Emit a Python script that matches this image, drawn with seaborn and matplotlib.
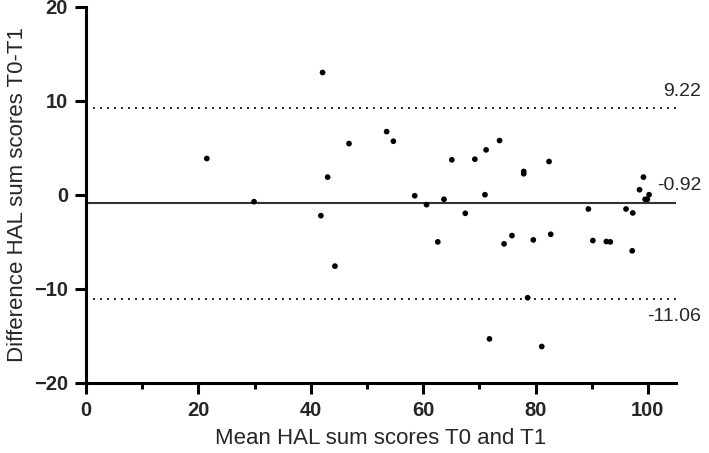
import matplotlib
matplotlib.use("Agg")
import matplotlib.pyplot as plt
import pandas as pd
import seaborn as sns
from matplotlib.ticker import MultipleLocator

# Bland-Altman data
mean_scores = [21.5, 29.9, 41.8, 42.1, 43.0, 44.3, 46.8, 53.5, 54.7, 58.5,
               60.6, 62.6, 63.7, 65.1, 67.5, 69.2, 71.0, 71.2, 71.8, 73.6,
               74.4, 75.8, 77.9, 77.9, 78.6, 79.6, 81.1, 82.4, 82.7, 89.4,
               90.2, 92.6, 93.3, 96.1, 97.2, 97.3, 98.5, 99.2, 99.5, 99.9,
               100.2]
diff_scores = [3.85, -0.74, -2.23, 13.0, 1.87, -7.6, 5.44, 6.71, 5.69, -0.11,
               -1.06, -5.02, -0.49, 3.71, -1.98, 3.78, 0.0, 4.77, -15.34, 5.76,
               -5.23, -4.35, 2.47, 2.23, -10.96, -4.81, -16.15, 3.53, -4.21, -1.52,
               -4.88, -4.98, -5.02, -1.52, -5.97, -1.94, 0.53, 1.87, -0.49, -0.49,
               0.0]
bias = -0.92
upper_loa = 9.22
lower_loa = -11.06

df = pd.DataFrame({"mean": mean_scores, "diff": diff_scores})

sns.set_style("ticks")
plt.rcParams["font.family"] = ["Liberation Sans", "DejaVu Sans"]

fig, ax = plt.subplots(figsize=(7.09, 4.53), dpi=100)
fig.subplots_adjust(left=0.1213, right=0.9535, top=0.9852, bottom=0.1552)

sns.scatterplot(data=df, x="mean", y="diff", ax=ax, color="black",
                s=17, edgecolor="none", zorder=3)

ax.axhline(bias, color="#333333", linewidth=1.5, zorder=2)
for val in (upper_loa, lower_loa):
    ax.axhline(val, color="#222222", linewidth=1.4,
               linestyle=(0, (1, 2.6)), zorder=2)

# limits of agreement labels, right of the plot area
txt_kw = dict(xycoords="data", textcoords="offset points", ha="right",
              fontsize=14, annotation_clip=False)
ax.annotate(f"{upper_loa:.2f}", xy=(109.5, upper_loa), xytext=(0, 6),
            va="bottom", **txt_kw)
ax.annotate(f"{bias:.2f}", xy=(109.5, bias), xytext=(0, 7),
            va="bottom", **txt_kw)
ax.annotate(f"{lower_loa:.2f}", xy=(109.5, lower_loa), xytext=(0, -7),
            va="top", **txt_kw)

ax.set_xlim(0, 105)
ax.set_ylim(-20, 20)
ax.xaxis.set_major_locator(MultipleLocator(20))
ax.xaxis.set_minor_locator(MultipleLocator(10))
ax.yaxis.set_major_locator(MultipleLocator(10))

sns.despine(ax=ax)
for side in ("left", "bottom"):
    ax.spines[side].set_linewidth(2.2)
    ax.spines[side].set_color("black")

ax.tick_params(axis="both", which="major", length=8, width=2.2,
               labelsize=14.5, color="black", pad=5)
ax.tick_params(axis="x", which="minor", length=4.5, width=2.2, color="black")
for lbl in ax.get_xticklabels() + ax.get_yticklabels():
    lbl.set_fontweight("bold")

ax.set_xlabel("Mean HAL sum scores T0 and T1", fontsize=16, labelpad=6)
ax.set_ylabel("Difference HAL sum scores T0-T1", fontsize=16, labelpad=4)

fig.savefig("out.png", dpi=100)
